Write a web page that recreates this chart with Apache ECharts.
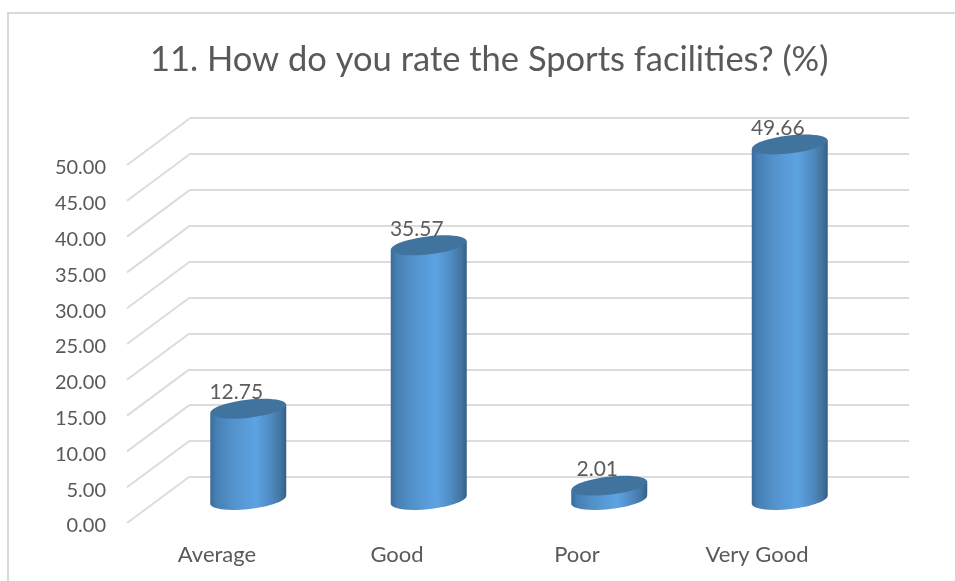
<!DOCTYPE html>
<html><head><meta charset="utf-8">
<style>html,body{margin:0;padding:0;background:#fff}#c{width:955px;height:581px}</style>
<script src="https://cdn.jsdelivr.net/npm/echarts@6/dist/echarts.min.js"></script>
</head><body><div id="c"></div>
<script>
const categories = ['Average', 'Good', 'Poor', 'Very Good'];
const values = [12.75, 35.57, 2.01, 49.66];
const titleText = '11. How do you rate the Sports facilities? (%)';
const axisMax = 50, axisStep = 5;
const ticks = [0,5,10,15,20,25,30,35,40,45,50];
const depthX = 62, depthY = 46;   // projection offset front plane -> back wall

const chart = echarts.init(document.getElementById('c'), null, {renderer:'canvas'});
const font = 'Lato, "Open Sans", sans-serif';
const sideGrad = () => new echarts.graphic.LinearGradient(0,0,1,0,[
  {offset:0,color:'#3a6c99'},{offset:0.08,color:'#4680b4'},{offset:0.3,color:'#5393cc'},
  {offset:0.6,color:'#5ca3e3'},{offset:0.8,color:'#4f8ac0'},{offset:0.93,color:'#42749f'},{offset:1,color:'#345f86'}]);
const a = 38, b = 9, tilt = 0.115, lean = 4.5;

const option = {
  animation:false,
  backgroundColor:'#fff',
  title:{text:titleText,top:37,left:145,
    textStyle:{fontFamily:font,fontWeight:'normal',fontSize:34.5,color:'#595959'}},
  graphic:[{type:'rect',shape:{x:8,y:13,width:960,height:600},silent:true,
    style:{fill:'none',stroke:'#d9d9d9',lineWidth:2}}],
  grid:[
    {left:127,width:720,top:165,height:358},   // front plane: side-wall lines, category labels
    {left:189,width:720,top:118,height:359},   // back wall: carries the gridlines
    {left:158,width:722,top:142,height:358},   // middle plane: carries the bars
    {left:127,width:720,top:168,height:358}    // value labels, sitting just under the front plane
  ],
  xAxis:[
    {gridIndex:0,type:'category',data:categories,axisLine:{show:false},axisTick:{show:false},splitLine:{show:false},
      axisLabel:{margin:21,fontFamily:font,fontSize:22,color:'#595959'}},
    {gridIndex:1,type:'category',data:categories,show:false},
    {gridIndex:2,type:'category',data:categories,show:false},
    {gridIndex:3,type:'category',data:categories,show:false}
  ],
  yAxis:[
    {gridIndex:0,type:'value',min:0,max:axisMax,interval:axisStep,show:false},
    {gridIndex:1,type:'value',min:0,max:axisMax,interval:axisStep,axisLine:{show:false},axisTick:{show:false},axisLabel:{show:false},
      splitLine:{show:true,lineStyle:{color:'#dcdcdc',width:2}}},
    {gridIndex:2,type:'value',min:0,max:axisMax,interval:axisStep,show:false},
    {gridIndex:3,type:'value',min:0,max:axisMax,interval:axisStep,axisLine:{show:false},axisTick:{show:false},splitLine:{show:false},
      axisLabel:{margin:21,formatter:v=>v.toFixed(2),fontFamily:font,fontSize:20,color:'#595959'}}
  ],
  series:[
    {type:'custom',xAxisIndex:0,yAxisIndex:0,data:ticks,silent:true,z:1,
      renderItem:(p,api)=>{
        const f=api.coord([0,api.value(0)]);
        const x0=p.coordSys.x;
        return {type:'line',shape:{x1:x0,y1:f[1],x2:x0+depthX,y2:f[1]-depthY},
          style:{stroke:'#dcdcdc',lineWidth:2,fill:null}};
      },encode:{y:0}},
    {type:'custom',xAxisIndex:2,yAxisIndex:2,z:3,
      data:values.map((v,i)=>[i,v]),
      renderItem:(p,api)=>{
        const top=api.coord([api.value(0),api.value(1)]);
        const bot=api.coord([api.value(0),0]);
        const cx=top[0];
        const ell=(y,fill)=>({type:'ellipse',x:cx,y:y,rotation:tilt,
          shape:{cx:0,cy:0,rx:a,ry:b},style:{fill:fill}});
        return {type:'group',children:[
          ell(bot[1],sideGrad()),
          {type:'polygon',shape:{points:[[cx-a,top[1]+lean],[cx+a,top[1]-lean],[cx+a,bot[1]-lean],[cx-a,bot[1]+lean]]},style:{fill:sideGrad()}},
          ell(top[1],'#41739f')
        ]};
      },encode:{x:0,y:1}},
    {type:'scatter',xAxisIndex:2,yAxisIndex:2,z:5,symbolSize:0,silent:true,
      data:values.map((v,i)=>[i,v]),
      label:{show:true,position:'top',distance:0,offset:[-12,-6],formatter:p=>p.value[1].toFixed(2),
        fontFamily:font,fontSize:21,color:'#333333'}}
  ]
};
chart.setOption(option);
</script></body></html>
